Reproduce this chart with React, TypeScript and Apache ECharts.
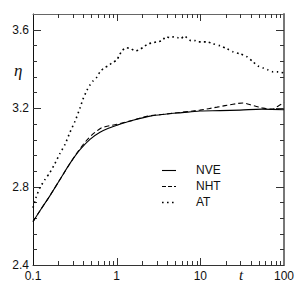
import React, { useEffect, useRef } from "react";
import * as echarts from "echarts";

// time (log axis) values and eta values
const nveT = [0.1, 0.1212, 0.1597, 0.2102, 0.2768, 0.3645, 0.48, 0.6322, 0.8325, 1.009, 1.567, 2.502, 3.781, 6.036, 9.906, 17.18, 29.79, 54.58, 100];
const nveEta = [2.621, 2.677, 2.754, 2.836, 2.918, 2.988, 3.041, 3.077, 3.1, 3.113, 3.138, 3.159, 3.169, 3.177, 3.185, 3.187, 3.19, 3.195, 3.192];

const nhtT = [0.1, 0.1212, 0.1597, 0.2102, 0.2768, 0.3645, 0.48, 0.6322, 0.7255, 1.009, 1.567, 2.368, 3.781, 6.036, 9.906, 15.82, 24.57, 32.36, 42.61, 56.11, 71.87, 84.78, 100];
const nhtEta = [2.621, 2.677, 2.754, 2.836, 2.918, 2.993, 3.054, 3.095, 3.105, 3.118, 3.138, 3.159, 3.169, 3.179, 3.19, 3.205, 3.22, 3.226, 3.213, 3.2, 3.195, 3.21, 3.228];

const atT = [0.1, 0.1086, 0.1212, 0.1391, 0.1597, 0.1832, 0.2102, 0.2413, 0.2768, 0.3177, 0.3645, 0.3959, 0.4421, 0.48, 0.5213, 0.5821, 0.6322, 0.706, 0.788, 0.8796, 1.009, 1.066, 1.158, 1.293, 1.484, 1.656, 1.849, 2.122, 2.368, 2.718, 3.034, 3.482, 3.887, 4.339, 4.844, 5.408, 5.874, 6.38, 6.929, 7.735, 8.635, 9.376, 10.47, 12.01, 14.17, 17.18, 20.83, 24.57, 29.79, 36.13, 42.61, 48.9, 56.11, 64.4, 73.87, 84.78, 100];
const atEta = [2.692, 2.744, 2.795, 2.836, 2.872, 2.918, 2.969, 3.015, 3.077, 3.133, 3.2, 3.246, 3.292, 3.318, 3.338, 3.359, 3.385, 3.405, 3.415, 3.431, 3.446, 3.467, 3.492, 3.508, 3.503, 3.492, 3.497, 3.513, 3.528, 3.533, 3.538, 3.544, 3.564, 3.559, 3.564, 3.559, 3.554, 3.569, 3.559, 3.544, 3.544, 3.538, 3.538, 3.538, 3.528, 3.518, 3.503, 3.487, 3.477, 3.462, 3.436, 3.415, 3.405, 3.395, 3.385, 3.385, 3.379];

const xMinorTicks = [0.2, 0.3, 0.4, 0.5, 0.6, 0.7, 0.8, 0.9, 2, 3, 4, 5, 6, 7, 8, 9, 20, 30, 40, 50, 60, 70, 80, 90];
const xMajorTicks = [1, 10];
const yMinorTicks = [2.48, 2.56, 2.64, 2.72, 2.88, 2.96, 3.04, 3.12, 3.28, 3.36, 3.44, 3.52];
const yMajorTicks = [2.8, 3.2, 3.6];

const legendNames = ["NVE", "NHT", "AT"];

const X_MIN = 0.1;
const X_MAX = 100;
const Y_MIN = 2.4;
const Y_MAX = 3.68;

const FONT = "Liberation Sans, Arial, sans-serif";
const SERIF = "Liberation Serif, DejaVu Serif, serif";

function zip(a: number[], b: number[]) {
  return a.map((v, i) => [v, b[i]]);
}

export default function App() {
  const ref = useRef<HTMLDivElement>(null);
  useEffect(() => {
    document.body.style.margin = "0";
    const chart = echarts.init(ref.current!, null, { renderer: "svg" });

    const xTickData = [
      ...xMinorTicks.map((v) => [v, Y_MIN, 4]),
      ...xMajorTicks.map((v) => [v, Y_MIN, 7]),
    ];
    const yTickData = [
      ...yMinorTicks.map((v) => [X_MIN, v, 4]),
      ...yMajorTicks.map((v) => [X_MIN, v, 8]),
    ];
    const tickColor = "#333";

    const option: any = {
      animation: false,
      grid: { left: 33, right: 20, top: 14, bottom: 29, containLabel: false },
      xAxis: [
        {
          type: "log",
          logBase: 10,
          min: X_MIN,
          max: X_MAX,
          position: "bottom",
          axisLine: { show: true, lineStyle: { color: "#333", width: 1 } },
          axisTick: { show: false },
          splitLine: { show: false },
          axisLabel: {
            color: "#111",
            fontFamily: FONT,
            fontSize: 12,
            margin: 5,
            formatter: (v: number) => (v < 1 ? v.toFixed(1) : String(Math.round(v))),
          },
        },
        {
          type: "log",
          logBase: 10,
          min: X_MIN,
          max: X_MAX,
          position: "top",
          axisLine: { show: true, lineStyle: { color: "#666", width: 1 } },
          axisTick: { show: false },
          splitLine: { show: false },
          axisLabel: { show: false },
        },
      ],
      yAxis: [
        {
          type: "value",
          min: Y_MIN,
          max: Y_MAX,
          interval: 0.4,
          position: "left",
          axisLine: { show: true, lineStyle: { color: "#111", width: 1 } },
          axisTick: { show: false },
          splitLine: { show: false },
          axisLabel: {
            color: "#111",
            fontFamily: FONT,
            fontSize: 12,
            margin: 4,
            showMaxLabel: false,
            formatter: (v: number) => v.toFixed(1),
          },
        },
        {
          type: "value",
          min: Y_MIN,
          max: Y_MAX,
          interval: 0.4,
          position: "right",
          axisLine: { show: true, lineStyle: { color: "#777", width: 2 } },
          axisTick: { show: false },
          splitLine: { show: false },
          axisLabel: { show: false },
        },
      ],
      series: [
        {
          name: "NVE",
          type: "line",
          data: zip(nveT, nveEta),
          showSymbol: false,
          smooth: 0.35,
          lineStyle: { color: "#000", width: 1.1, type: "solid" },
        },
        {
          name: "NHT",
          type: "line",
          data: zip(nhtT, nhtEta),
          showSymbol: false,
          smooth: 0.35,
          lineStyle: { color: "#000", width: 1.1, type: [5, 3] },
        },
        {
          name: "AT",
          type: "line",
          data: zip(atT, atEta),
          showSymbol: false,
          smooth: 0.2,
          lineStyle: { color: "#000", width: 1.6, type: [1.6, 3.4] },
        },
        {
          type: "custom",
          silent: true,
          data: xTickData,
          renderItem: (params: any, api: any) => {
            const v = api.value(0);
            const len = api.value(2);
            const b = api.coord([v, Y_MIN]);
            const t = api.coord([v, Y_MAX]);
            const x = Math.round(b[0]) + 0.5;
            return {
              type: "group",
              children: [
                { type: "line", shape: { x1: x, y1: b[1], x2: x, y2: b[1] - len }, style: { stroke: tickColor, lineWidth: 1 } },
                { type: "line", shape: { x1: x, y1: t[1], x2: x, y2: t[1] + len }, style: { stroke: tickColor, lineWidth: 1 } },
              ],
            };
          },
        },
        {
          type: "custom",
          silent: true,
          data: yTickData,
          renderItem: (params: any, api: any) => {
            const v = api.value(1);
            const len = api.value(2);
            const l = api.coord([X_MIN, v]);
            const r = api.coord([X_MAX, v]);
            const y = Math.round(l[1]) + 0.5;
            return {
              type: "group",
              children: [
                { type: "line", shape: { x1: l[0], y1: y, x2: l[0] + len, y2: y }, style: { stroke: tickColor, lineWidth: 1 } },
                { type: "line", shape: { x1: r[0], y1: y, x2: r[0] - len, y2: y }, style: { stroke: tickColor, lineWidth: 1 } },
              ],
            };
          },
        },
      ],
      graphic: [
        {
          type: "text",
          left: 14,
          top: 62,
          style: { text: "\u03b7", font: `italic 17px ${SERIF}`, fill: "#111" },
        },
        {
          type: "text",
          left: 239,
          top: 267,
          style: { text: "t", font: `italic 15px ${SERIF}`, fill: "#111" },
        },
        { type: "line", shape: { x1: 162, y1: 170.5, x2: 176, y2: 170.5 }, style: { stroke: "#000", lineWidth: 1.1 } },
        { type: "line", shape: { x1: 162, y1: 186.5, x2: 176, y2: 186.5 }, style: { stroke: "#000", lineWidth: 1.1, lineDash: [4, 2] } },
        { type: "line", shape: { x1: 162, y1: 202.5, x2: 176, y2: 202.5 }, style: { stroke: "#000", lineWidth: 1.6, lineDash: [1.6, 3.4] } },
        { type: "text", left: 196, top: 164, style: { text: legendNames[0], font: `12px ${FONT}`, fill: "#111" } },
        { type: "text", left: 196, top: 180, style: { text: legendNames[1], font: `12px ${FONT}`, fill: "#111" } },
        { type: "text", left: 196, top: 196, style: { text: legendNames[2], font: `12px ${FONT}`, fill: "#111" } },
      ],
    };
    chart.setOption(option);
    return () => chart.dispose();
  }, []);
  return <div ref={ref} style={{ width: 304, height: 294, background: "#fff" }} />;
}
